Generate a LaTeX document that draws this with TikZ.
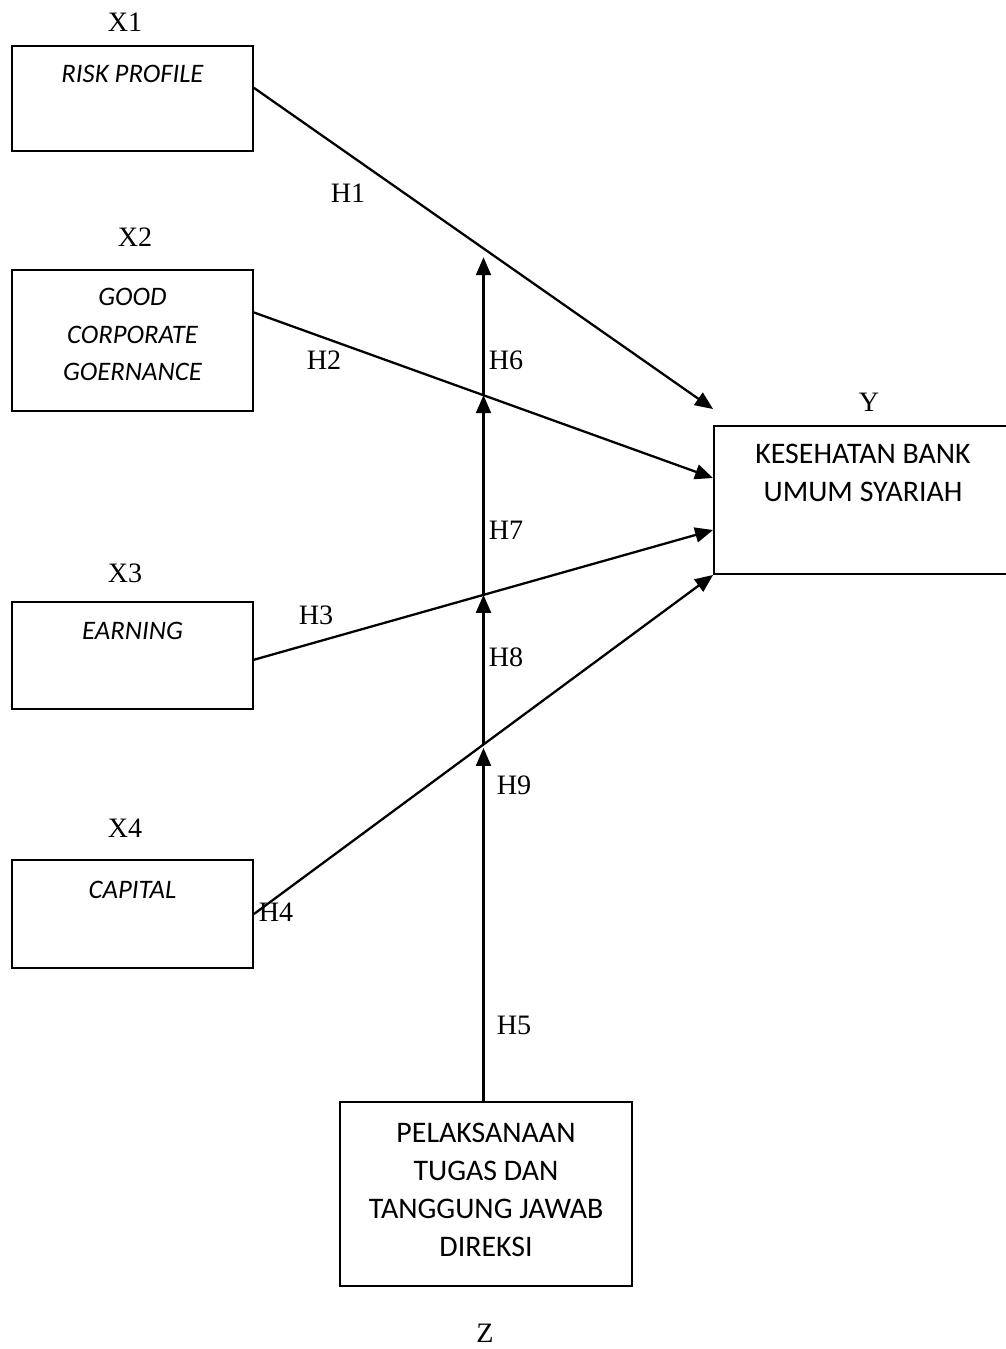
\documentclass[tikz,border=0pt]{standalone}
\usepackage{fontspec}
\setmainfont{Liberation Serif}
\newfontfamily\calib{Carlito}
\usetikzlibrary{arrows.meta,calc}

\tikzset{
  var/.style={draw, line width=1.1pt, inner sep=0pt, minimum width=4.82cm},
  txt/.style={font=\calib\fontsize{17}{21.5}\selectfont, align=center},
  itxt/.style={txt, font=\calib\itshape\fontsize{15.2}{21.5}\selectfont},
  lbl/.style={font=\fontsize{16}{18}\selectfont},
  hyp/.style={line width=1.3pt, -{Triangle[length=0.36cm,width=0.3cm]}}
}

\begin{document}
\begin{tikzpicture}[x=0.02cm, y=-0.02cm]
\useasboundingbox (0,0) rectangle (1005,1349);

\node[var, minimum height=2.1cm] (x1) at (132.5,98.5) {};
\node[var, minimum height=2.82cm] (x2) at (132.5,340.5) {};
\node[var, minimum height=2.14cm] (x3) at (132.5,655.5) {};
\node[var, minimum height=2.16cm] (x4) at (132.5,914) {};
\node[var, minimum width=5.96cm, minimum height=2.96cm] (ybox) at (863,500) {};
\node[var, minimum width=5.84cm, minimum height=3.68cm] (z) at (486,1194) {};

\node[itxt] (x1t) at ($(x1.north)+(0,29)$) {RISK PROFILE};
\node[itxt] (x2t) at ($(x2.north)+(0,65.5)$) {GOOD\\CORPORATE\\GOERNANCE};
\node[itxt] (x3t) at ($(x3.north)+(0,30)$) {EARNING};
\node[itxt] (x4t) at ($(x4.north)+(0,31)$) {CAPITAL};
\node[txt] (yt) at ($(ybox.north)+(0,47.5)$) {KESEHATAN BANK\\UMUM SYARIAH};
\node[txt] (zt) at ($(z.north)+(0,89)$) {PELAKSANAAN\\TUGAS DAN\\TANGGUNG JAWAB\\DIREKSI};

\node[lbl] (lx1) at (125,22) {X1};
\node[lbl] (lx2) at (135,237) {X2};
\node[lbl] (lx3) at (125,573) {X3};
\node[lbl] (lx4) at (125,828) {X4};
\node[lbl] (ly) at (869,402) {Y};
\node[lbl] (lz) at (485,1333) {Z};

\coordinate (t1) at ($(ybox.north west)+(0,-16)$);
\coordinate (t2) at ($(ybox.west)+(0,-22)$);
\coordinate (t3) at ($(ybox.west)+(0,30)$);
\coordinate (t4) at (ybox.south west);

\draw[hyp] (x1.5) -- (t1) coordinate[pos=0.5] (c1);
\draw[hyp] (x2.13) -- (t2) coordinate[pos=0.5] (c2);
\draw[hyp] (x3.-2) -- (t3) coordinate[pos=0.5] (c3);
\draw[hyp] (x4.east) -- (t4) coordinate[pos=0.5] (c4);

\draw[hyp, shorten >=2pt] (c4 |- z.north) -- (c4);
\draw[hyp] (c4) -- (c3);
\draw[hyp] (c3) -- (c2);
\draw[hyp, shorten >=5pt] (c2) -- (c1);

\node[lbl] (h1) at (348,193) {H1};
\node[lbl] (h2) at (324,360) {H2};
\node[lbl] (h3) at (316,615) {H3};
\node[lbl] (h4) at (276,912) {H4};
\node[lbl] (h5) at (514,1025) {H5};
\node[lbl] (h6) at (506,360) {H6};
\node[lbl] (h7) at (506,530) {H7};
\node[lbl] (h8) at (506,657) {H8};
\node[lbl] (h9) at (514,785) {H9};
\end{tikzpicture}
\end{document}
